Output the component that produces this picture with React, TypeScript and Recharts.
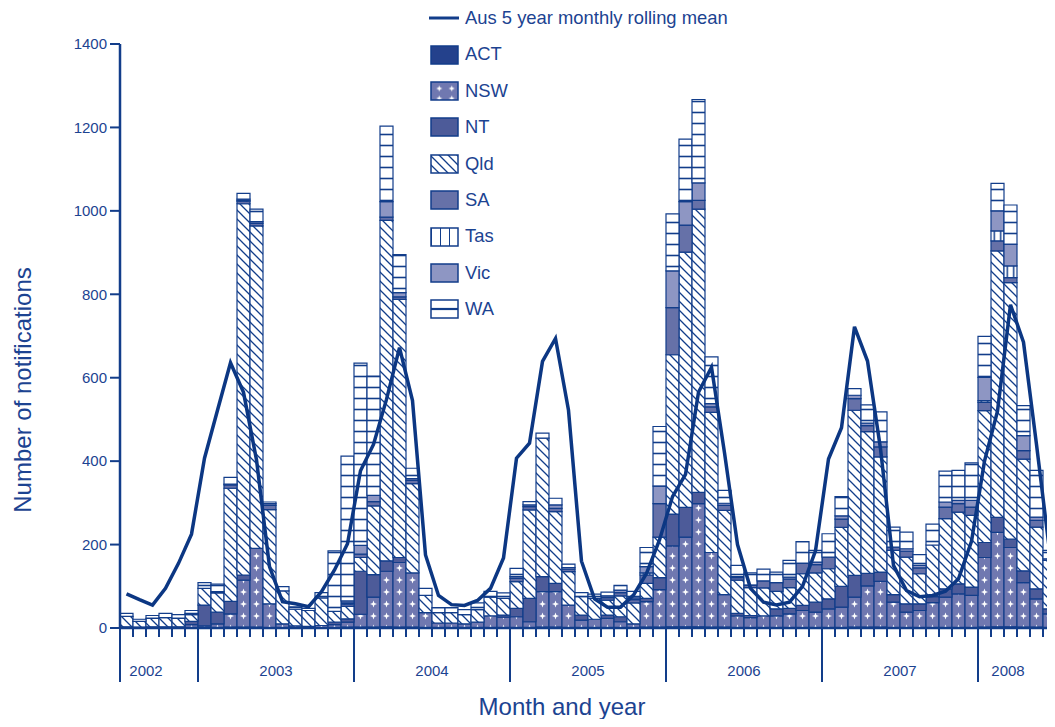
import { ComposedChart, Bar, Line, XAxis, YAxis, Legend, Label } from 'recharts'

const NAVY = '#123d8a'
const TEXT = '#1c4391'
const FONT = '"Liberation Sans", Arial, Helvetica, sans-serif'
const BAND = 13
const PLOT_BOTTOM = 620

const YEARS = ['2002', '2003', '2004', '2005', '2006', '2007', '2008']
const MONTH_NAMES = ['Jan', 'Feb', 'Mar', 'Apr', 'May', 'Jun', 'Jul', 'Aug', 'Sep', 'Oct', 'Nov', 'Dec']

// Jul 2002 to Jun 2008
const months: string[] = YEARS.flatMap((y) =>
  MONTH_NAMES.filter((_, mi) => (y === '2002' ? mi >= 6 : y === '2008' ? mi < 6 : true)).map((m) => `${m} ${y}`)
)

const act = [
  0, 0, 0, 0, 0, 1, 1, 1, 2, 2, 2, 1,
  0, 0, 0, 0, 1, 2, 2, 2, 3, 2, 2, 1,
  0, 0, 0, 0, 0, 0, 1, 1, 2, 2, 1, 1,
  1, 1, 1, 1, 2, 2, 3, 3, 3, 2, 2, 1,
  1, 1, 1, 1, 1, 1, 1, 1, 2, 2, 2, 1,
  1, 1, 1, 1, 1, 1, 2, 3, 3, 2, 2, 1,
]
const nsw = [
  3, 2, 3, 3, 3, 7, 4, 9, 32, 113, 189, 57,
  10, 5, 4, 6, 7, 12, 31, 72, 133, 155, 130, 36,
  12, 12, 10, 14, 29, 26, 26, 14, 85, 85, 54, 18,
  20, 22, 14, 9, 61, 90, 194, 215, 295, 179, 78, 28,
  24, 28, 28, 33, 41, 37, 45, 49, 72, 99, 110, 61,
  37, 41, 60, 73, 81, 77, 167, 226, 190, 107, 68, 33,
]
const nt = [
  0, 0, 0, 0, 0, 8, 50, 28, 30, 12, 0, 0,
  0, 0, 0, 0, 6, 8, 103, 54, 25, 12, 0, 0,
  0, 0, 0, 0, 0, 5, 20, 56, 36, 20, 0, 12,
  0, 8, 12, 0, 8, 29, 76, 71, 27, 0, 0, 6,
  5, 0, 17, 13, 12, 24, 24, 50, 52, 30, 22, 18,
  20, 16, 14, 20, 24, 20, 36, 36, 20, 28, 24, 12,
]
const qld = [
  25, 14, 20, 22, 20, 16, 40, 46, 271, 890, 773, 226,
  79, 40, 38, 66, 26, 30, 33, 165, 816, 619, 214, 41,
  25, 25, 22, 30, 45, 40, 64, 212, 332, 172, 80, 44,
  50, 36, 50, 50, 36, 97, 382, 612, 679, 336, 202, 80,
  67, 67, 42, 50, 76, 70, 72, 141, 396, 340, 276, 106,
  112, 72, 124, 168, 172, 172, 316, 639, 615, 268, 148, 116,
]
const sa = [
  0, 0, 0, 0, 0, 3, 0, 3, 8, 6, 6, 10,
  0, 0, 0, 0, 0, 5, 8, 10, 8, 6, 8, 0,
  0, 0, 0, 0, 0, 0, 8, 8, 0, 8, 6, 0,
  0, 6, 8, 8, 20, 80, 113, 65, 21, 13, 12, 6,
  6, 17, 21, 20, 25, 20, 28, 20, 28, 14, 24, 8,
  14, 14, 0, 28, 20, 20, 20, 24, 12, 20, 16, 4,
]
const tas = [
  0, 0, 0, 0, 0, 0, 0, 0, 0, 2, 0, 0,
  0, 0, 0, 0, 0, 3, 0, 0, 0, 0, 0, 0,
  0, 0, 0, 0, 0, 0, 0, 0, 0, 0, 0, 0,
  0, 0, 0, 0, 5, 0, 0, 0, 0, 0, 0, 0,
  0, 0, 0, 0, 0, 0, 0, 0, 0, 0, 0, 0,
  0, 0, 0, 0, 0, 0, 4, 24, 28, 0, 0, 0,
]
const vic = [
  0, 0, 0, 0, 0, 0, 0, 0, 2, 3, 4, 4,
  0, 0, 0, 0, 0, 5, 21, 15, 37, 10, 4, 0,
  0, 0, 0, 0, 0, 0, 4, 4, 0, 8, 4, 0,
  0, 4, 6, 4, 15, 42, 88, 56, 42, 8, 5, 2,
  0, 0, 0, 5, 0, 6, 0, 8, 8, 6, 12, 0,
  6, 6, 0, 12, 8, 16, 56, 48, 52, 36, 8, 0,
]
const wa = [
  7, 5, 7, 10, 9, 7, 14, 18, 16, 14, 30, 4,
  10, 6, 5, 13, 145, 347, 437, 286, 181, 91, 25, 17,
  12, 12, 12, 16, 14, 13, 20, 8, 12, 16, 8, 10,
  10, 9, 11, 16, 46, 143, 137, 150, 200, 112, 31, 27,
  29, 28, 25, 40, 52, 28, 56, 46, 16, 44, 72, 48,
  40, 26, 50, 74, 72, 90, 98, 66, 94, 72, 112, 20,
]
const rollingMean = [
  82, 68, 55, 95, 155, 225, 407, 522, 636, 565, 403, 147,
  63, 58, 51, 87, 139, 202, 377, 440, 548, 672, 545, 175,
  78, 56, 54, 66, 95, 168, 407, 443, 639, 694, 522, 160,
  70, 50, 50, 79, 131, 211, 315, 368, 565, 625, 420, 200,
  95, 62, 55, 62, 100, 185, 405, 480, 722, 640, 430, 150,
  90, 75, 78, 88, 118, 208, 400, 520, 775, 685, 440, 185,
]

const yTicks = [0, 200, 400, 600, 800, 1000, 1200, 1400]

const data = months.map((month, i) => ({
  month,
  ACT: act[i],
  NSW: nsw[i],
  NT: nt[i],
  Qld: qld[i],
  SA: sa[i],
  Tas: tas[i],
  Vic: vic[i],
  WA: wa[i],
  mean: rollingMean[i],
}))

const states = [
  { key: 'ACT', fill: '#24418c', legendFill: '#24418c' },
  { key: 'NSW', fill: 'url(#p-nsw)', legendFill: 'url(#p-nsw-lg)' },
  { key: 'NT', fill: '#4d5b99', legendFill: '#4d5b99' },
  { key: 'Qld', fill: 'url(#p-qld)', legendFill: 'url(#p-qld)' },
  { key: 'SA', fill: '#6671a8', legendFill: '#6671a8' },
  { key: 'Tas', fill: 'url(#p-tas)', legendFill: 'url(#p-tas-lg)' },
  { key: 'Vic', fill: '#8e96c3', legendFill: '#8e96c3' },
  { key: 'WA', fill: 'url(#p-wa)', legendFill: 'url(#p-wa-lg)' },
]

// where each year's label sits, relative to a month tick
const yearLabelAt: Record<string, [string, number]> = {
  '2002': ['Aug', 6.5],
  '2008': ['Mar', -2.5],
}

function MonthTick(props: any) {
  const { x, payload } = props
  const [mon, yr] = String(payload.value).split(' ')
  const left = x - BAND / 2
  const isYearStart = mon === 'Jan' || payload.index === 0
  const [labelMon, dx] = yearLabelAt[yr] || ['Jun', 6.5]
  return (
    <g>
      <line x1={left} y1={PLOT_BOTTOM} x2={left} y2={PLOT_BOTTOM + 9} stroke={NAVY} strokeWidth={2} />
      {isYearStart && (
        <line x1={left} y1={PLOT_BOTTOM} x2={left} y2={PLOT_BOTTOM + 54} stroke={NAVY} strokeWidth={2} />
      )}
      {mon === labelMon && (
        <text x={x + dx} y={PLOT_BOTTOM + 48} textAnchor="middle" fill={TEXT} fontSize={15} fontFamily={FONT}>
          {yr}
        </text>
      )}
    </g>
  )
}

function LegendBox() {
  const rowH = 36.4
  return (
    <div style={{ fontFamily: FONT, fontSize: 18.4, color: TEXT, lineHeight: 1 }}>
      <div style={{ height: rowH, display: 'flex', alignItems: 'center' }}>
        <svg width={36} height={20} style={{ display: 'block' }}>
          <line x1={0} y1={10} x2={30} y2={10} stroke={NAVY} strokeWidth={3} />
        </svg>
        <span>Aus 5 year monthly rolling mean</span>
      </div>
      {states.map((s) => (
        <div key={s.key} style={{ height: rowH, display: 'flex', alignItems: 'center' }}>
          <svg width={36} height={20} style={{ display: 'block' }}>
            <rect x={2} y={1} width={27} height={18} fill={s.legendFill} stroke={NAVY} strokeWidth={1.5} />
          </svg>
          <span>{s.key}</span>
        </div>
      ))}
    </div>
  )
}

export default function App() {
  // outer box keeps the page at exactly 1055x727 so no scrollbar appears
  return (
    <div style={{ width: 1047, height: 719, marginBottom: -8, overflow: 'hidden' }}>
      <ComposedChart
        width={1048}
        height={719}
        data={data}
        margin={{ top: 36, right: 0, left: 52, bottom: 0 }}
        barCategoryGap={0}
        barGap={0}
      >
        <defs>
          <pattern id="p-nsw" patternUnits="userSpaceOnUse" x={112} y={2} width={13} height={12}>
            <rect width={13} height={12} fill="#7078b0" />
            <path d="M6.5,2.4 L7.4,5.1 L10,6 L7.4,6.9 L6.5,9.6 L5.6,6.9 L3,6 L5.6,5.1Z" fill="#ffffff" />
          </pattern>
          <pattern id="p-nsw-lg" patternUnits="userSpaceOnUse" x={4} y={1.5} width={12.5} height={10}>
            <rect width={12.5} height={10} fill="#7078b0" />
            <path d="M6.25,3 L7.1,5.1 L9.3,6 L7.1,6.9 L6.25,9 L5.4,6.9 L3.2,6 L5.4,5.1Z" fill="#ffffff" />
          </pattern>
          <pattern id="p-qld" patternUnits="userSpaceOnUse" width={9} height={9}>
            <rect width={9} height={9} fill="#ffffff" />
            <path d="M0,0 L9,9 M-3,6 L3,12 M6,-3 L12,3" stroke={NAVY} strokeWidth={1.3} />
          </pattern>
          <pattern id="p-tas" patternUnits="userSpaceOnUse" x={112} width={6.5} height={10}>
            <rect width={6.5} height={10} fill="#ffffff" />
            <line x1={3.25} y1={0} x2={3.25} y2={10} stroke={NAVY} strokeWidth={1.5} />
          </pattern>
          <pattern id="p-tas-lg" patternUnits="userSpaceOnUse" x={2} width={9} height={10}>
            <rect width={9} height={10} fill="#ffffff" />
            <line x1={0} y1={0} x2={0} y2={10} stroke={NAVY} strokeWidth={2} />
          </pattern>
          <pattern id="p-wa" patternUnits="userSpaceOnUse" width={13} height={11}>
            <rect width={13} height={11} fill="#ffffff" />
            <line x1={0} y1={5.5} x2={13} y2={5.5} stroke={NAVY} strokeWidth={1.6} />
          </pattern>
          <pattern id="p-wa-lg" patternUnits="userSpaceOnUse" y={1} width={30} height={18}>
            <rect width={30} height={18} fill="#ffffff" />
            <line x1={0} y1={9} x2={30} y2={9} stroke={NAVY} strokeWidth={2.2} />
          </pattern>
        </defs>

        <XAxis
          dataKey="month"
          interval={0}
          height={99}
          tickLine={false}
          tickSize={0}
          tickMargin={0}
          axisLine={{ stroke: NAVY, strokeWidth: 2.5 }}
          tick={<MonthTick />}
        >
          <Label
            content={() => (
              <text x={554} y={698} textAnchor="middle" dominantBaseline="central" fill={TEXT} fontSize={24} fontFamily={FONT}>
                Month and year
              </text>
            )}
          />
        </XAxis>
        <YAxis
          width={60}
          domain={[0, 1400]}
          ticks={yTicks}
          tickSize={10}
          tickMargin={3}
          interval={0}
          axisLine={{ stroke: NAVY, strokeWidth: 2.5 }}
          tickLine={{ stroke: NAVY, strokeWidth: 2 }}
          tick={{ fill: TEXT, fontSize: 15, fontFamily: FONT }}
        >
          <Label
            content={() => (
              <text
                x={14}
                y={382}
                transform="rotate(-90, 14, 382)"
                textAnchor="middle"
                dominantBaseline="central"
                fill={TEXT}
                fontSize={24}
                fontFamily={FONT}
              >
                Number of notifications
              </text>
            )}
          />
        </YAxis>

        <Legend
          layout="vertical"
          align="center"
          verticalAlign="middle"
          width={370}
          wrapperStyle={{ left: 421, top: -8 }}
          content={() => <LegendBox />}
        />

        {states.map((s) => (
          <Bar
            key={s.key}
            dataKey={s.key}
            stackId="a"
            fill={s.fill}
            stroke={NAVY}
            strokeWidth={1.2}
            isAnimationActive={false}
          />
        ))}
        <Line
          dataKey="mean"
          type="linear"
          stroke="#0c3783"
          strokeWidth={3.5}
          dot={false}
          activeDot={false}
          isAnimationActive={false}
        />
      </ComposedChart>
    </div>
  )
}
